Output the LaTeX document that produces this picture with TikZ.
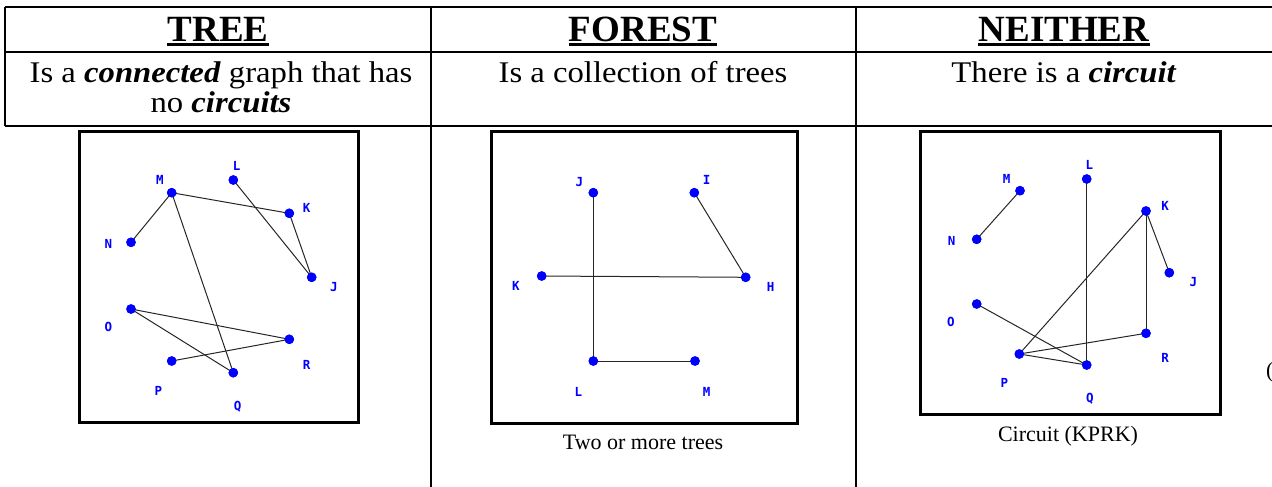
\documentclass[tikz,border=0pt]{standalone}
\usepackage{fontspec}
\setmainfont{Liberation Serif}
\newfontfamily\descfont[FakeStretch=1.09]{Liberation Serif}
\newfontfamily\lblfont{DejaVu Sans Mono}
\definecolor{dotblue}{RGB}{0,0,255}
\begin{document}
\begin{tikzpicture}[x=1pt,y=-1pt,
  gdot/.style={circle,fill=dotblue,inner sep=0pt,minimum size=9.5pt},
  glbl/.style={text=dotblue,font=\lblfont\bfseries\fontsize{12.5}{12.5}\selectfont,inner sep=0pt},
  gedge/.style={draw=black!85,line width=1pt},
  gframe/.style={draw=black,line width=3pt},
  tablegrid/.style={draw=black,line width=2pt},
  headtext/.style={font=\bfseries\fontsize{37}{37}\selectfont,inner sep=0pt,anchor=base},
  uline/.style={draw=black,line width=2.5pt},
  desctext/.style={font=\descfont\fontsize{30}{34}\selectfont,inner sep=0pt,anchor=base},
  captext/.style={font=\fontsize{22}{24}\selectfont,inner sep=0pt,anchor=base}
]
\useasboundingbox (0,0) rectangle (1272,487);
% table grid
\coordinate (gtl) at (5,7);
\coordinate (gtr) at (1272,7);
\coordinate (gml) at (5,52);
\coordinate (gmr) at (1272,52);
\coordinate (gbl) at (5,126);
\coordinate (gbr) at (1272,126);
\coordinate (v1t) at (431,7);
\coordinate (v1b) at (431,487);
\coordinate (v2t) at (856,7);
\coordinate (v2b) at (856,487);
\draw[tablegrid] (gtl) -- (gtr);
\draw[tablegrid] (gml) -- (gmr);
\draw[tablegrid] (gbl) -- (gbr);
\draw[tablegrid] (gtl) -- (gbl);
\draw[tablegrid] (v1t) -- (v1b);
\draw[tablegrid] (v2t) -- (v2b);
% headers
\node[headtext] (h1) at (218,41.5) {TREE};
\node[headtext] (h2) at (643,41.5) {FOREST};
\node[headtext] (h3) at (1064,41.5) {NEITHER};
\foreach \h in {h1,h2,h3}{
  \draw[uline] ([yshift=-3pt]\h.base west) -- ([yshift=-3pt]\h.base east);
}
% descriptions
\node[desctext] (d1a) at (221,82) {Is a \textbf{\textit{connected}} graph that has};
\node[desctext] (d1b) at (221,113) {no \textbf{\textit{circuits}}};
\node[desctext] (d2) at (643,82) {Is a collection of trees};
\node[desctext] (d3) at (1064,82) {There is a \textbf{\textit{circuit}}};
% frames
\draw[gframe] (79,131) rectangle (358,422);
\draw[gframe] (491,131) rectangle (797,423);
\draw[gframe] (920,131) rectangle (1220,414);
% captions
\node[captext] (c2) at (643,449) {Two or more trees};
\node[captext] (c3) at (1068,441) {Circuit (KPRK)};
\node[captext,anchor=base west] (stray) at (1266,377) {(};
% ---- TREE graph
\node[gdot] (tM) at (171.7,192.7) {};
\node[gdot] (tL) at (233.3,180) {};
\node[gdot] (tK) at (289.3,213.3) {};
\node[gdot] (tN) at (131,242.3) {};
\node[gdot] (tJ) at (311.7,277.3) {};
\node[gdot] (tO) at (131,309) {};
\node[gdot] (tR) at (289.3,339.3) {};
\node[gdot] (tP) at (171.7,361) {};
\node[gdot] (tQ) at (233.3,372.7) {};
\node[glbl] (ltM) at (160,180) {M};
\node[glbl] (ltL) at (236.7,165.7) {L};
\node[glbl] (ltK) at (306.7,208.3) {K};
\node[glbl] (ltN) at (108.3,244) {N};
\node[glbl] (ltJ) at (334,286.7) {J};
\node[glbl] (ltO) at (108.3,327.3) {O};
\node[glbl] (ltR) at (306.7,365) {R};
\node[glbl] (ltP) at (158.3,390.7) {P};
\node[glbl] (ltQ) at (237.7,406.7) {Q};
\draw[gedge] (tM.center) -- (tN.center);
\draw[gedge] (tM.center) -- (tK.center);
\draw[gedge] (tM.center) -- (tQ.center);
\draw[gedge] (tL.center) -- (tJ.center);
\draw[gedge] (tK.center) -- (tJ.center);
\draw[gedge] (tO.center) -- (tR.center);
\draw[gedge] (tO.center) -- (tQ.center);
\draw[gedge] (tP.center) -- (tR.center);
\foreach \n in {tM,tL,tK,tN,tJ,tO,tR,tP,tQ}{\node[gdot] at (\n) {};}
% ---- FOREST graph
\node[gdot] (fJ) at (593.3,192.7) {};
\node[gdot] (fI) at (694.3,192.7) {};
\node[gdot] (fK) at (541.7,276) {};
\node[gdot] (fH) at (745.7,277.3) {};
\node[gdot] (fL) at (593.3,361) {};
\node[gdot] (fM) at (695,361) {};
\node[glbl] (lfJ) at (579.3,181.7) {J};
\node[glbl] (lfI) at (706.7,180) {I};
\node[glbl] (lfK) at (516,286) {K};
\node[glbl] (lfH) at (770.7,287.3) {H};
\node[glbl] (lfL) at (578.3,391.7) {L};
\node[glbl] (lfM) at (706.7,391.7) {M};
\draw[gedge] (fJ.center) -- (fL.center);
\draw[gedge] (fL.center) -- (fM.center);
\draw[gedge] (fI.center) -- (fH.center);
\draw[gedge] (fK.center) -- (fH.center);
\foreach \n in {fJ,fI,fK,fH,fL,fM}{\node[gdot] at (\n) {};}
% ---- NEITHER graph
\node[gdot] (nM) at (1020,190.7) {};
\node[gdot] (nL) at (1086.7,179) {};
\node[gdot] (nK) at (1146,211) {};
\node[gdot] (nN) at (976.7,239.3) {};
\node[gdot] (nJ) at (1169.3,272.7) {};
\node[gdot] (nO) at (976.7,304) {};
\node[gdot] (nR) at (1146,333.3) {};
\node[gdot] (nP) at (1019.3,354) {};
\node[gdot] (nQ) at (1086.7,365) {};
\node[glbl] (lnM) at (1006.7,179.3) {M};
\node[glbl] (lnL) at (1089.3,165) {L};
\node[glbl] (lnK) at (1165,206) {K};
\node[glbl] (lnN) at (951.7,241) {N};
\node[glbl] (lnJ) at (1193.3,281.7) {J};
\node[glbl] (lnO) at (951,322.3) {O};
\node[glbl] (lnR) at (1165,358.3) {R};
\node[glbl] (lnP) at (1004.3,382.7) {P};
\node[glbl] (lnQ) at (1090,398.3) {Q};
\draw[gedge] (nM.center) -- (nN.center);
\draw[gedge] (nL.center) -- (nQ.center);
\draw[gedge] (nK.center) -- (nP.center);
\draw[gedge] (nK.center) -- (nJ.center);
\draw[gedge] (nK.center) -- (nR.center);
\draw[gedge] (nO.center) -- (nQ.center);
\draw[gedge] (nP.center) -- (nR.center);
\draw[gedge] (nP.center) -- (nQ.center);
\foreach \n in {nM,nL,nK,nN,nJ,nO,nR,nP,nQ}{\node[gdot] at (\n) {};}
\end{tikzpicture}
\end{document}
